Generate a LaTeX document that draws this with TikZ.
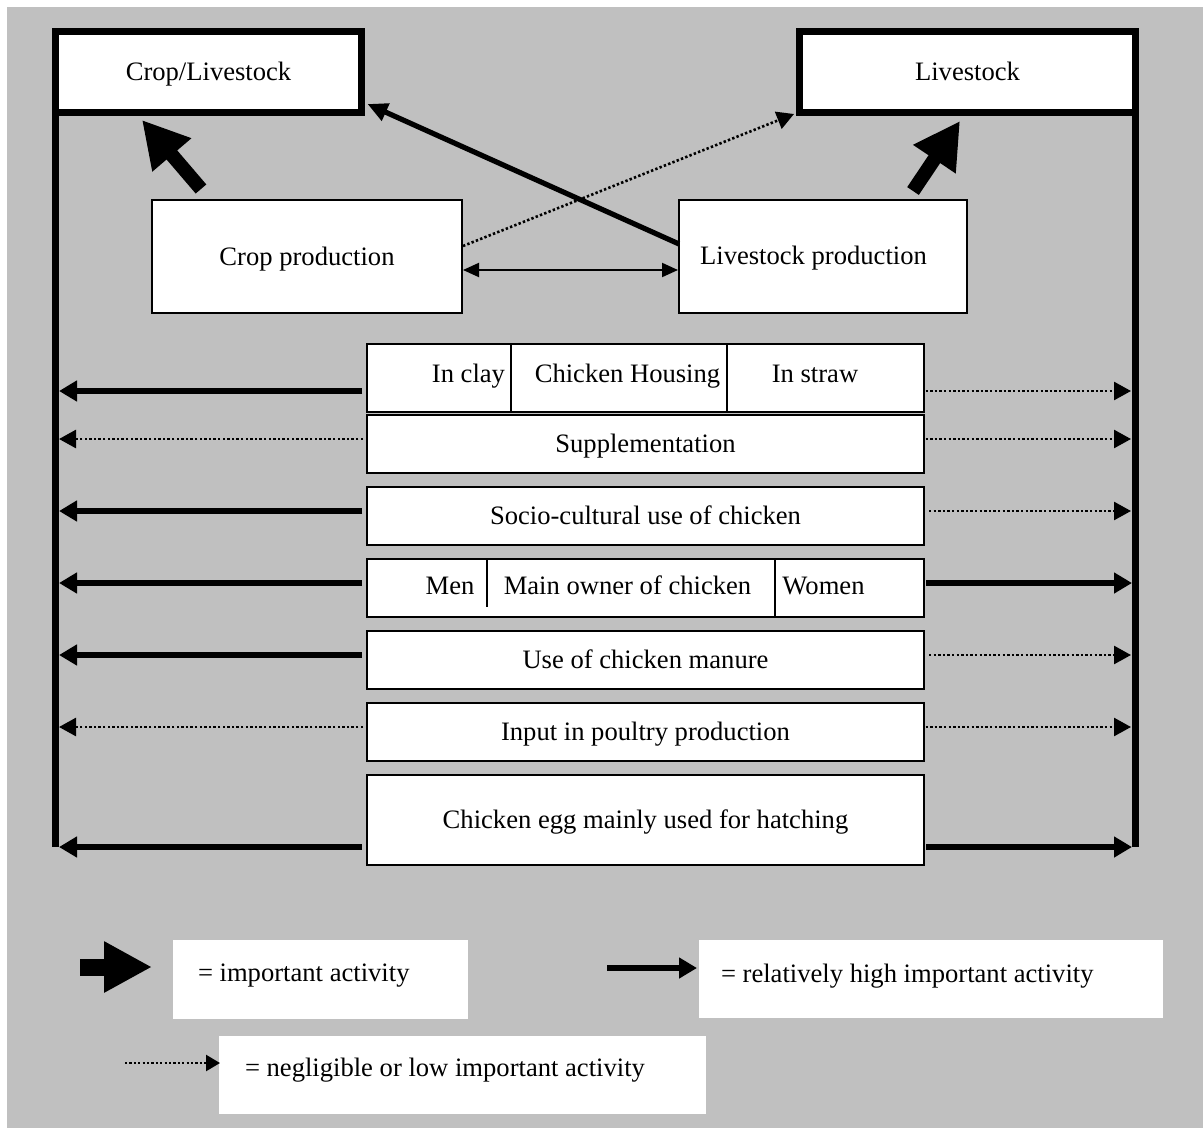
\documentclass[tikz,border=0pt]{standalone}
\usepackage{fontspec}
\setmainfont{Liberation Serif}
\usetikzlibrary{arrows.meta,calc}
\definecolor{bg}{RGB}{192,192,192}
\begin{document}
\begin{tikzpicture}[x=0.5pt,y=-0.5pt,
  txt/.style={font=\fontsize{13.3}{15}\selectfont, text height=8.7pt, text depth=0pt, inner sep=0pt, outer sep=0pt},
  bigbox/.style={txt, draw, fill=white, line width=3.5pt, minimum height=40.5pt},
  box/.style={txt, draw, fill=white, line width=1pt},
  rowbox/.style={box, minimum width=278.5pt},
  legbox/.style={fill=white, draw=none, inner sep=0pt, outer sep=0pt},
  divider/.style={line width=0.8pt},
  vline/.style={line width=3.5pt},
  hi/.style={line width=2.6pt, -{Triangle[length=9pt,width=10pt]}},
  lo/.style={line width=1.3pt, dash pattern=on 1.2pt off 1.1pt, -{Triangle[length=8.5pt,width=9pt]}},
  fat/.style={line width=7pt, -{Triangle[length=23pt,width=24pt]}},
  dbl/.style={line width=1pt, {Triangle[length=8pt,width=7pt]}-{Triangle[length=8pt,width=7pt]}}
]
\useasboundingbox (0,0) rectangle (1203,1129);
\fill[white] (0,0) rectangle (1203,1129);
\fill[bg] (7,7) rectangle (1203,1128);

% top boxes
\node[bigbox, minimum width=153pt] (cl) at (208.5,72) {Crop/Livestock};
\node[bigbox, minimum width=168pt] (ls) at (967.5,72) {Livestock};

% side lines
\draw[vline] (cl.south west) -- ++(0,734.5);
\draw[vline] (ls.south east) -- ++(0,734.5);

% production boxes
\node[box, minimum width=155pt, minimum height=56.5pt] (cp) at (307,256.5) {Crop production};
\node[box, minimum width=144pt, minimum height=56.5pt] (lp) at (823,256.5) {};
\node[txt] (lpt) at (813.5,256) {Livestock production};

% rows
\node[rowbox, minimum height=34pt] (r1) at (645.5,377.5) {};
\node[txt, anchor=east] (r1a) at (505,374) {In clay};
\node[txt] (r1b) at (627.5,374) {Chicken Housing};
\node[txt] (r1c) at (815,374) {In straw};
\draw[divider] (511,343) -- (511,412);
\draw[divider] (727,343) -- (727,412);

\node[rowbox, minimum height=29pt] (r2) at (645.5,444) {Supplementation};
\node[rowbox, minimum height=29pt] (r3) at (645.5,516) {Socio-cultural use of chicken};

\node[rowbox, minimum height=29pt] (r4) at (645.5,588) {};
\node[txt] (r4a) at (450,586) {Men};
\node[txt] (r4b) at (627.5,586) {Main owner of chicken};
\node[txt] (r4c) at (823.5,586) {Women};
\draw[divider] (487,559) -- (487,607);
\draw[divider] (775,559) -- (775,617);

\node[rowbox, minimum height=29pt] (r5) at (645.5,660) {Use of chicken manure};
\node[rowbox, minimum height=29pt] (r6) at (645.5,732) {Input in poultry production};
\node[rowbox, minimum height=45pt] (r7) at (645.5,820) {Chicken egg mainly used for hatching};

% top connectors
\draw[fat] ($(cp.north west)+(49,-11)$) -- ($(cl.south west)+(86.5,7.5)$);
\draw[fat] ($(lp.north west)+(234,-9)$) -- ($(ls.south west)+(160.5,8.5)$);
\draw[line width=2.6pt, -{Triangle[length=10pt,width=9pt]}] ($(lp.west)+(0,-12.5)$) -- ($(cl.south east)+(6,-8.5)$);
\draw[lo] ($(cp.east)+(1,-10.5)$) -- ($(ls.south west)+(-5.5,1.5)$);
\draw[dbl] ($(cp.east)+(1,13.5)$) -- ($(lp.west)+(-1,13.5)$);

% left arrows
\draw[hi] ($(r1.west)+(-5,13.5)$) -- ($(r1.west)+(-308,13.5)$);
\draw[lo] ($(r2.west)+(-4,-5)$) -- ($(r2.west)+(-308,-5)$);
\draw[hi] ($(r3.west)+(-5,-5)$) -- ($(r3.west)+(-308,-5)$);
\draw[hi] ($(r4.west)+(-5,-5)$) -- ($(r4.west)+(-308,-5)$);
\draw[hi] ($(r5.west)+(-5,-5)$) -- ($(r5.west)+(-308,-5)$);
\draw[lo] ($(r6.west)+(-4,-5)$) -- ($(r6.west)+(-308,-5)$);
\draw[hi] ($(r7.west)+(-5,27)$) -- ($(r7.west)+(-308,27)$);

% right arrows
\draw[lo] ($(r1.east)+(1.5,13.5)$) -- ($(r1.east)+(207,13.5)$);
\draw[lo] ($(r2.east)+(1.5,-5)$) -- ($(r2.east)+(207,-5)$);
\draw[lo] ($(r3.east)+(5,-5)$) -- ($(r3.east)+(207,-5)$);
\draw[hi] ($(r4.east)+(2,-5)$) -- ($(r4.east)+(208,-5)$);
\draw[lo] ($(r5.east)+(5,-5)$) -- ($(r5.east)+(207,-5)$);
\draw[lo] ($(r6.east)+(1.5,-5)$) -- ($(r6.east)+(207,-5)$);
\draw[hi] ($(r7.east)+(2,27)$) -- ($(r7.east)+(208,27)$);

% legend
\node[legbox, minimum width=147.5pt, minimum height=39.5pt] (k1) at (320.5,979.5) {};
\node[txt, anchor=west] (k1t) at (198,973) {= important activity};
\node[legbox, minimum width=232pt, minimum height=39pt] (k2) at (931,979) {};
\node[txt, anchor=west] (k2t) at (721,974) {= relatively high important activity};
\node[legbox, minimum width=243.5pt, minimum height=39pt] (k3) at (462.5,1075) {};
\node[txt, anchor=west] (k3t) at (245,1068) {= negligible or low important activity};

\coordinate (a1s) at (80,967);
\coordinate (a1e) at (152,967);
\draw[line width=8.5pt, -{Triangle[length=24pt,width=24pt]}] (a1s) -- (a1e);
\coordinate (a2s) at (607,968);
\coordinate (a2e) at (697,968);
\draw[hi] (a2s) -- (a2e);
\coordinate (a3s) at (125,1063);
\coordinate (a3e) at (220,1063);
\draw[line width=1.2pt, dash pattern=on 1.1pt off 1.1pt, -{Triangle[length=7pt,width=8pt]}] (a3s) -- (a3e);
\end{tikzpicture}
\end{document}
